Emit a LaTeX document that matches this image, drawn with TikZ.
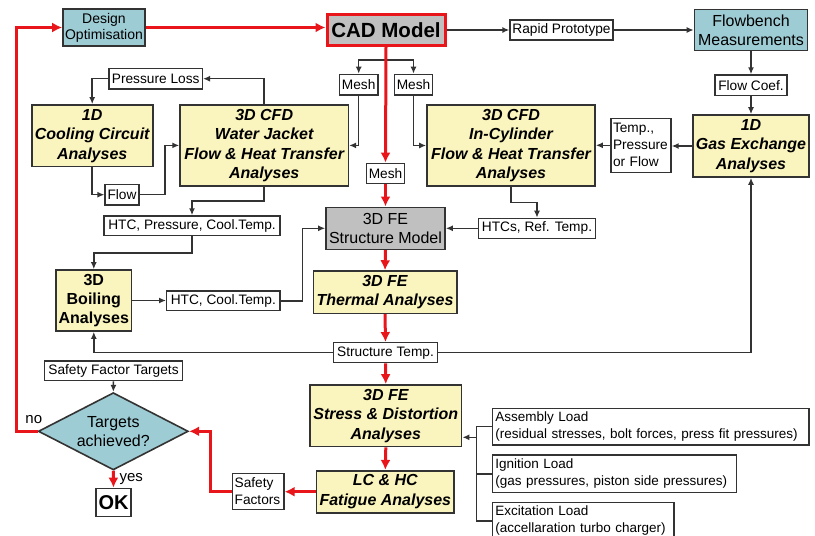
\documentclass[tikz,border=0pt]{standalone}
\usepackage{fontspec}
\setmainfont{Liberation Sans}
\usetikzlibrary{arrows.meta,shapes.geometric}
\definecolor{bd}{HTML}{333333}
\definecolor{yel}{HTML}{FAF4BE}
\definecolor{tealc}{HTML}{9ECCD4}
\definecolor{grayc}{HTML}{C0C0C0}
\definecolor{redc}{HTML}{E8161B}
\tikzset{
 sz/.style 2 args={minimum width=#1pt, minimum height=#2pt},
 bx/.style={draw=bd, line width=1.6pt, inner sep=0pt, align=center},
 ybox/.style={bx, fill=yel, font=\bfseries\itshape\fontsize{16}{19.4}\selectfont},
 tbox/.style={bx, fill=tealc, font=\fontsize{16}{19}\selectfont},
 gbox/.style={bx, fill=grayc, font=\fontsize{16}{19}\selectfont},
 lbl/.style={draw=bd, line width=1.3pt, fill=white, inner sep=0pt, align=center, font=\fontsize{13.7}{16.5}\selectfont},
 ldbox/.style={draw=bd, line width=1.3pt, fill=white, inner xsep=3pt, inner ysep=0pt, align=left, font=\fontsize{13.5}{17}\selectfont},
 con/.style={draw=bd, line width=1.5pt},
 arr/.style={con, -{Latex[length=7pt,width=6pt]}},
 rcon/.style={draw=redc, line width=3pt},
 rarr/.style={rcon, -{Latex[length=10pt,width=10pt]}},
 txt/.style={inner sep=0pt, font=\fontsize{15}{18}\selectfont}
}
\begin{document}
\begin{tikzpicture}[x=1pt,y=-1pt]
\useasboundingbox (0,0) rectangle (815,536);
% nodes
\node[tbox, sz={82}{37}, font=\fontsize{14}{16}\selectfont] (dopt) at (104,27.5) {Design\\Optimisation};
\node[gbox, draw=redc, line width=3pt, sz={118}{31}, font=\bfseries\fontsize{20.5}{24}\selectfont] (cad) at (386,30) {CAD Model};
\node[lbl, sz={103}{20}] (rp) at (561.5,30) {Rapid Prototype};
\node[tbox, sz={113}{41}] (fb) at (751,30) {Flowbench\\Measurements};
\node[lbl, sz={72}{20.7}] (fc) at (751,85.3) {Flow Coef.};
\node[ybox, sz={116}{62}] (gas) at (751,146) {1D\\Gas Exchange\\Analyses};
\node[lbl, sz={60}{54}, text width=56pt, align=left, inner xsep=2pt, font=\fontsize{13.7}{17}\selectfont] (tpf) at (641,145.3) {Temp.,\\Pressure\\or Flow};
\node[ybox, sz={168}{81}] (incyl) at (511,145.5) {3D CFD\\In-Cylinder\\Flow \& Heat Transfer\\Analyses};
\node[lbl, sz={38.7}{20.7}] (mesh1) at (358.7,84.7) {Mesh};
\node[lbl, sz={38.4}{20.7}] (mesh2) at (413.5,84.7) {Mesh};
\node[lbl, sz={38.6}{20}] (mesh3) at (385.5,173.3) {Mesh};
\node[gbox, sz={119}{42}] (fes) at (385.5,228.3) {3D FE\\Structure Model};
\node[lbl, sz={117.4}{20}] (htcs) at (537,228.3) {HTCs, Ref. Temp.};
\node[ybox, sz={168.3}{80.7}] (wj) at (264.2,145.4) {3D CFD\\Water Jacket\\Flow \& Heat Transfer\\Analyses};
\node[ybox, sz={121}{61.7}] (cc) at (92.2,135.8) {1D\\Cooling Circuit\\Analyses};
\node[lbl, sz={93.3}{20.7}] (pl) at (155.7,78.7) {Pressure Loss};
\node[lbl, sz={34}{20.7}] (flow) at (122,194.7) {Flow};
\node[lbl, sz={176}{19.7}] (hpc) at (192,225.8) {HTC, Pressure, Cool.Temp.};
\node[bx, fill=yel, sz={75.7}{61}, font=\bfseries\fontsize{16}{19.4}\selectfont] (boil) at (93.8,300.5) {3D\\Boiling\\Analyses};
\node[lbl, sz={113.3}{19.7}] (hct) at (223.3,300.8) {HTC, Cool.Temp.};
\node[ybox, sz={143.4}{42.3}] (therm) at (385,292.2) {3D FE\\Thermal Analyses};
\node[lbl, sz={104.4}{20}] (st) at (385.5,352.7) {Structure Temp.};
\node[ybox, sz={151.7}{61.7}] (stress) at (385.8,415.8) {3D FE\\Stress \& Distortion\\Analyses};
\node[ybox, sz={137.3}{42}, font=\bfseries\itshape\fontsize{16}{20}\selectfont] (fat) at (385.3,491.7) {LC \& HC\\Fatigue Analyses};
\node[lbl, sz={51.3}{36}, text width=47.3pt, inner xsep=2pt, align=left, font=\fontsize{13.7}{16.7}\selectfont] (sf) at (258.3,491.3) {Safety\\Factors};
\node[diamond, draw=bd, line width=1.6pt, fill=tealc, aspect=1.94, inner sep=0pt, sz={150}{77.3}, align=center, font=\fontsize{16}{19.3}\selectfont] (dia) at (113.3,431.3) {Targets\\achieved?};
\node[lbl, sz={138.4}{19.7}] (sft) at (113.5,370.8) {Safety Factor Targets};
\node[lbl, sz={35}{28.4}, font=\bfseries\fontsize{20}{24}\selectfont] (ok) at (113.5,502.5) {OK};
\node[ldbox, text width=310.6pt, minimum height=36.7pt, anchor=west] (asm) at (491.7,426.7) {Assembly Load\\(residual stresses, bolt forces, press fit pressures)};
\node[ldbox, text width=238.3pt, minimum height=37.7pt, anchor=west] (ign) at (491.7,473.8) {Ignition Load\\(gas pressures, piston side pressures)};
\node[ldbox, text width=175.6pt, minimum height=37.7pt, anchor=west] (exc) at (491.7,521) {Excitation Load\\(accellaration turbo charger)};
\node[txt] (no) at (33.8,420) {no};
\node[txt] (yes) at (131.3,478.7) {yes};
% black connectors
\coordinate (j) at (386,60);
\draw[con] (cad.south) -- (j);
\draw[arr] (j) -| (mesh1.north);
\draw[arr] (j) -| (mesh2.north);
\draw[arr] (cad.east) -- (rp.west);
\draw[arr] (rp.east) -- (fb.west);
\draw[arr] (fb.south) -- (fc.north);
\draw[arr] (fc.south) -- (gas.north);
\draw[arr] (gas.west) -- (gas.west -| tpf.east);
\draw[arr] (tpf.west) -- (tpf.west -| incyl.east);
\draw[arr] (mesh1.south) |- (wj.east);
\draw[arr] (mesh2.south) |- (incyl.west);
\draw[arr] (incyl.south) -- ++(0,15.7) -| (htcs.north);
\draw[arr] (htcs.west) -- (htcs.west -| fes.east);
\draw[arr] (wj.north) |- (pl.east);
\draw[arr] (pl.west) -| (cc.north);
\draw[arr] (cc.south) |- (flow.west);
\draw[arr] (flow.east) -- ++(25.3,0) |- (wj.west);
\draw[arr] (wj.south) -- ++(0,14.3) -| (hpc.north);
\draw[arr] (hpc.south) -- ++(0,16.5) -| (boil.north);
\draw[arr] (boil.east) -- (boil.east -| hct.west);
\draw[arr] (hct.east) -- ++(22,0) |- (fes.west);
\draw[arr] (st.west) -| (boil.south);
\draw[arr] (st.east) -| (gas.south);
\draw[arr] (sft.south) -- (dia.north);
\coordinate (bus) at (476.7,437.3);
\draw[con] (asm.west) -- (asm.west -| bus) -- (exc.west -| bus) -- (exc.west);
\draw[con] (ign.west) -- (ign.west -| bus);
\draw[arr] (bus) -- (bus -| stress.east);
% red connectors
\draw[rarr] (dopt.east) -- (dopt.east -| cad.west);
\draw[rarr] (cad.south) -- (mesh3.north);
\draw[rarr] (mesh3.south) -- (fes.north);
\draw[rarr] (fes.south) -- (therm.north);
\draw[rarr] (therm.south) -- (st.north);
\draw[rarr] (st.south) -- (stress.north);
\draw[rarr] (stress.south) -- (fat.north);
\draw[rarr] (fat.west) -- (fat.west -| sf.east);
\draw[rarr] (sf.west) -- ++(-22,0) |- (dia.east);
\draw[rarr] (dia.south) -- (ok.north);
\coordinate (lc) at (16.7,431.3);
\draw[rarr] (dia.west) -- (lc) |- (dopt.west);
\end{tikzpicture}
\end{document}
